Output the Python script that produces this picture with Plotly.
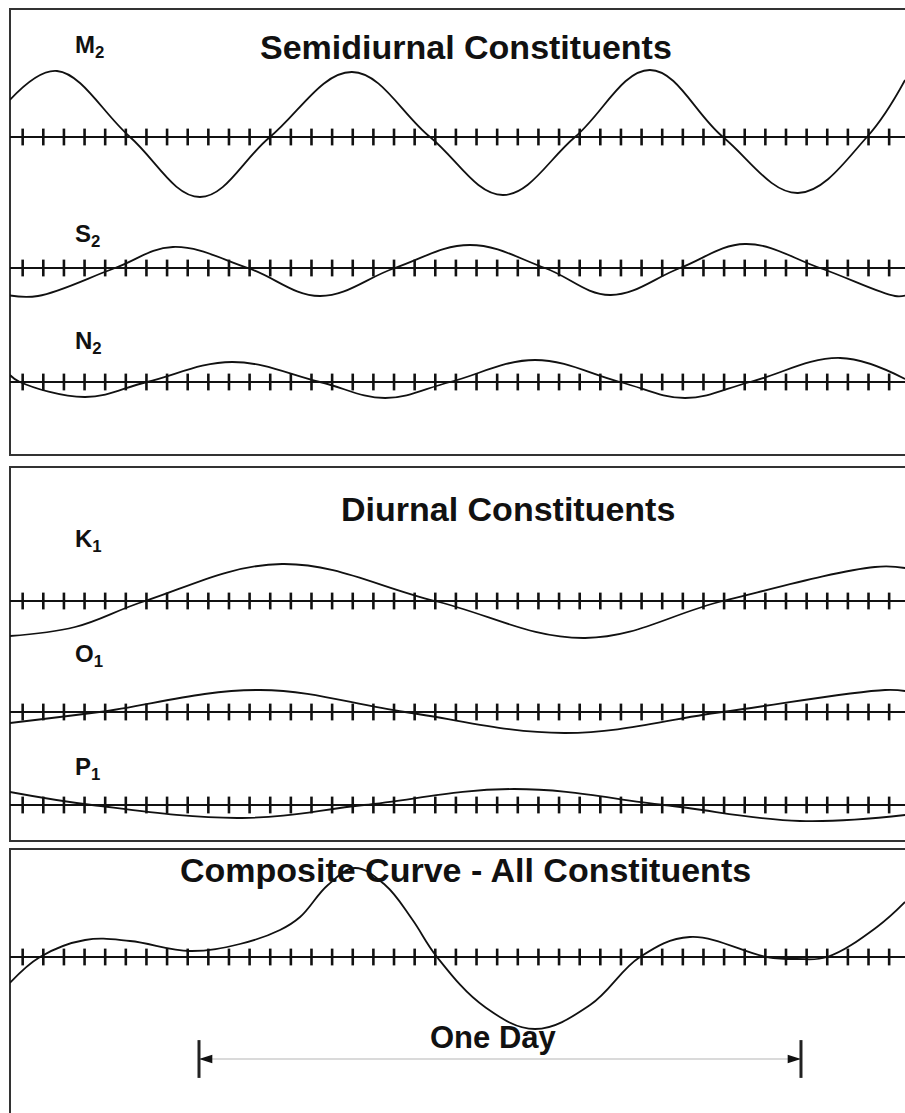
import plotly.graph_objects as go

# Tidal constituent curves: time in hours (0 = start of the one-day span),
# height in feet above/below mean level.
M2_T = [-7.54, -5.66, -2.75, 0.04, 2.83, 6.10, 9.21, 12.12, 14.99, 17.98, 20.89, 23.88, 26.63, 28.15]
M2_H = [0.74, 1.32, 0.0, -1.20, 0.0, 1.30, 0.0, -1.16, 0.0, 1.34, 0.0, -1.12, 0.0, 1.14]

S2_T = [-7.54, -6.42, -3.35, -1.04, 1.95, 4.82, 7.81, 10.80, 13.79, 16.39, 19.18, 21.77, 24.76, 27.75, 28.15]
S2_H = [-0.55, -0.56, 0.0, 0.42, 0.0, -0.56, 0.0, 0.46, 0.0, -0.54, 0.0, 0.48, 0.0, -0.56, -0.55]

N2_T = [-7.54, -7.14, -4.54, -2.07, 1.32, 4.82, 7.42, 10.01, 13.40, 16.78, 19.38, 21.97, 25.56, 28.15]
N2_H = [0.14, 0.0, -0.30, 0.0, 0.40, 0.0, -0.32, 0.0, 0.44, 0.0, -0.32, 0.0, 0.48, 0.06]

K1_T = [-7.54, -4.94, -2.15, 3.31, 9.41, 15.39, 20.89, 26.95, 28.15]
K1_H = [-0.70, -0.52, 0.0, 0.74, 0.0, -0.74, 0.0, 0.68, 0.66]

O1_T = [-7.54, -3.97, 2.43, 8.21, 14.59, 20.85, 27.35, 28.15]
O1_H = [-0.22, 0.0, 0.44, 0.0, -0.42, 0.0, 0.44, 0.42]

P1_T = [-7.54, -4.27, 1.71, 6.58, 12.56, 18.54, 23.96, 28.15]
P1_H = [0.26, 0.0, -0.26, 0.0, 0.32, 0.0, -0.32, -0.20]

COMP_T = [-7.54, -6.34, -4.54, -2.75, -0.36, 1.63, 3.23, 4.03, 5.14, 6.22, 7.42,
          8.49, 9.49, 11.40, 13.40, 15.59, 17.58, 19.57, 22.64, 23.84, 25.04,
          27.03, 28.15]
COMP_H = [-0.52, 0.0, 0.34, 0.32, 0.12, 0.26, 0.54, 0.80, 1.44, 1.78, 1.44,
          0.76, 0.0, -1.00, -1.44, -0.96, 0.0, 0.40, 0.0, -0.04, 0.0,
          0.60, 1.10]

LABELS = ["M<sub>2</sub>", "S<sub>2</sub>", "N<sub>2</sub>",
          "K<sub>1</sub>", "O<sub>1</sub>", "P<sub>1</sub>", None]
TITLES = ["Semidiurnal Constituents", "Diurnal Constituents",
          "Composite Curve - All Constituents"]
ONE_DAY = [0.0, 24.0]          # hours
ONE_DAY_TEXT = "One Day"

# time-axis tick marks
TICK_START = -7.03
TICK_STEP = 0.8225
TICK_COUNT = 43

# ---- page geometry (pixels) ----
FIG_W, FIG_H = 905, 1113
PX_PER_FT = 50.0
X_RANGE = [-7.535, 28.147]
PANEL_LEFT = 10


def ypap(p):
    return 1 - p / FIG_H


def xpap(p):
    return p / FIG_W


FONT = "Liberation Sans, Arial, Helvetica, sans-serif"
INK = "#111111"

# baseline (px), half-height of the strip (px), label centre (px)
rows = [
    (M2_T, M2_H, 137, 100, 46),
    (S2_T, S2_H, 268, 60, 235),
    (N2_T, N2_H, 382, 55, 342),
    (K1_T, K1_H, 601, 60, 541),
    (O1_T, O1_H, 712, 50, 655),
    (P1_T, P1_H, 805, 42, 768),
    (COMP_T, COMP_H, 957, 140, None),
]

ticks_x = [TICK_START + k * TICK_STEP for k in range(TICK_COUNT)]

fig = go.Figure()
layout_axes = {}
annotations = []

for i, (t, h, base, half, lab_y) in enumerate(rows):
    yname = "y" if i == 0 else f"y{i + 1}"
    ykey = "yaxis" if i == 0 else f"yaxis{i + 1}"
    rng = half / PX_PER_FT
    layout_axes[ykey] = dict(
        domain=[ypap(base + half), ypap(base - half)],
        range=[-rng, rng],
        anchor="x",
        showgrid=False, showticklabels=False, ticks="", showline=False,
        zeroline=True, zerolinecolor=INK, zerolinewidth=2,
        fixedrange=True,
    )
    fig.add_trace(go.Scatter(
        x=t, y=h, xaxis="x", yaxis=yname, mode="lines",
        line=dict(color=INK, width=1.8, shape="spline", smoothing=1.1),
        hoverinfo="skip", showlegend=False,
    ))
    fig.add_trace(go.Scatter(
        x=ticks_x, y=[0] * len(ticks_x), xaxis="x", yaxis=yname, mode="markers",
        marker=dict(symbol="line-ns", size=12, line=dict(color=INK, width=2.6)),
        hoverinfo="skip", showlegend=False,
    ))
    if LABELS[i]:
        annotations.append(dict(
            text=f"<b>{LABELS[i]}</b>", xref="paper", yref="paper",
            x=xpap(73), y=ypap(lab_y), xanchor="left", yanchor="middle",
            showarrow=False, font=dict(family=FONT, size=24, color=INK),
        ))

# one-day span under the composite curve
comp_axis = f"y{len(rows)}"
ARROW_LEVEL = -2.04
fig.add_trace(go.Scatter(
    x=ONE_DAY, y=[ARROW_LEVEL, ARROW_LEVEL], xaxis="x", yaxis=comp_axis,
    mode="lines", line=dict(color="#b5b5b5", width=1),
    hoverinfo="skip", showlegend=False,
))
fig.add_trace(go.Scatter(
    x=ONE_DAY, y=[ARROW_LEVEL, ARROW_LEVEL], xaxis="x", yaxis=comp_axis,
    mode="markers",
    marker=dict(symbol="arrow", size=14, angle=[-90, 90], color=INK,
                line=dict(width=0)),
    hoverinfo="skip", showlegend=False, cliponaxis=False,
))
fig.add_trace(go.Scatter(
    x=ONE_DAY, y=[ARROW_LEVEL, ARROW_LEVEL], xaxis="x", yaxis=comp_axis,
    mode="markers",
    marker=dict(symbol="line-ns", size=27, line=dict(color="#222222", width=3)),
    hoverinfo="skip", showlegend=False, cliponaxis=False,
))

# panel titles
for text, cx, cy in [(TITLES[0], 466, 47), (TITLES[1], 508, 509), (TITLES[2], 465, 870)]:
    annotations.append(dict(
        text=f"<b>{text}</b>", xref="paper", yref="paper",
        x=xpap(cx), y=ypap(cy), xanchor="center", yanchor="middle",
        showarrow=False, font=dict(family=FONT, size=34, color=INK),
    ))
annotations.append(dict(
    text=f"<b>{ONE_DAY_TEXT}</b>", xref="x", yref="paper",
    x=(ONE_DAY[0] + ONE_DAY[1]) / 2 - 0.25, y=ypap(1037), xanchor="center", yanchor="middle",
    showarrow=False, font=dict(family=FONT, size=31, color=INK),
))

# panel frames
shapes = []
for top, bottom in [(9, 455), (467, 841), (849, 1140)]:
    shapes.append(dict(
        type="rect", xref="paper", yref="paper",
        x0=xpap(PANEL_LEFT), x1=1.05, y0=ypap(bottom), y1=ypap(top),
        line=dict(color="#333333", width=2), fillcolor="rgba(0,0,0,0)", layer="below",
    ))

fig.update_layout(
    width=FIG_W, height=FIG_H,
    margin=dict(l=0, r=0, t=0, b=0, pad=0),
    paper_bgcolor="white", plot_bgcolor="rgba(0,0,0,0)",
    template="none", showlegend=False,
    xaxis=dict(domain=[xpap(PANEL_LEFT), 1], range=X_RANGE, showgrid=False,
               zeroline=False, showticklabels=False, ticks="", showline=False,
               fixedrange=True),
    annotations=annotations, shapes=shapes,
    **layout_axes,
)

fig.write_html("out.html", config={"displayModeBar": False})
